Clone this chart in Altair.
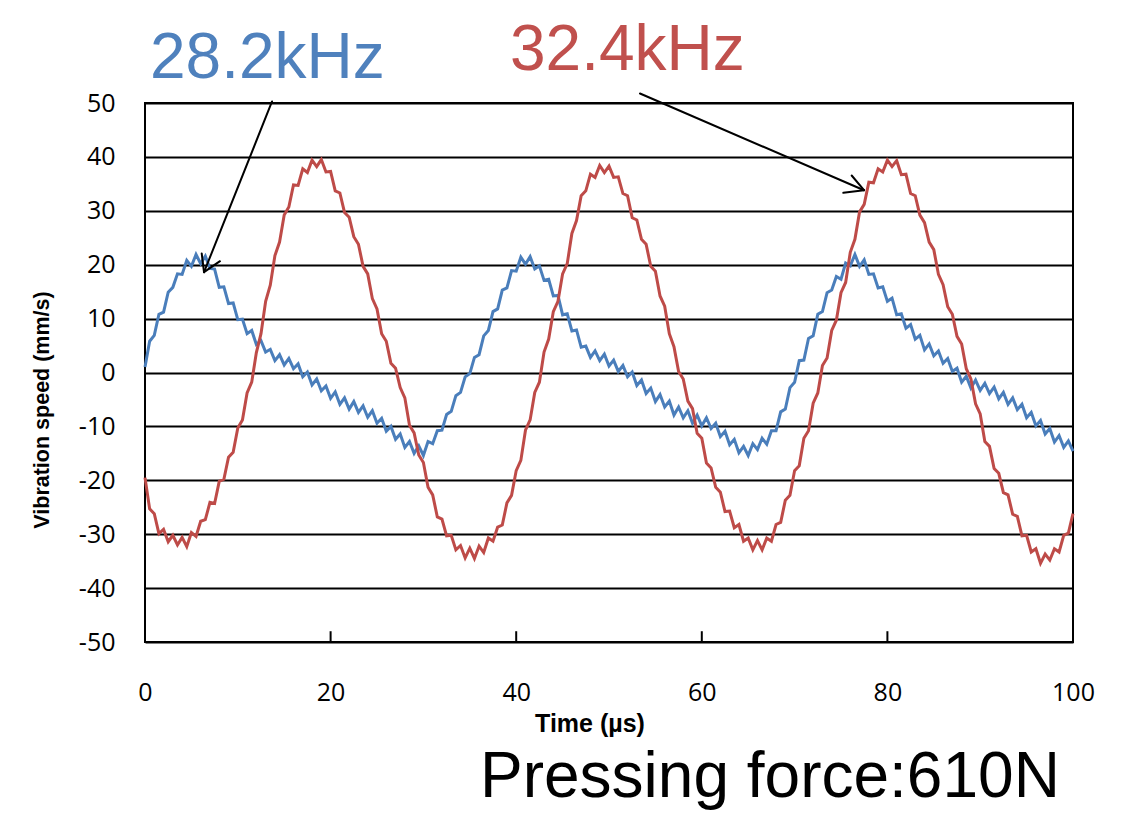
import altair as alt
import pandas as pd

# ---------------- data ----------------
time_us = [i * 0.5 for i in range(201)]  # sampling grid 0..100 µs, step 0.5

speed_28_2khz = [
    1.0, 5.8, 6.9, 10.8, 11.2, 14.9, 15.8, 18.3, 18.2, 20.8,
    19.7, 21.9, 20.2, 21.6, 19.3, 19.2, 15.8, 15.9, 12.8, 12.9,
    9.8, 9.9, 7.2, 7.8, 5.2, 5.9, 3.8, 4.3, 2.2, 3.3,
    1.4, 2.6, 0.7, 1.6, -0.8, 0.1, -2.3, -1.2, -3.4, -2.5,
    -4.8, -3.6, -5.9, -4.7, -6.8, -5.4, -7.4, -6.2, -8.3, -7.1,
    -9.4, -8.5, -10.9, -10.0, -12.4, -11.4, -13.9, -12.8, -15.0, -13.6,
    -15.4, -12.8, -13.2, -10.8, -10.7, -7.8, -7.2, -4.3, -3.7, -0.8,
    -0.2, 2.8, 3.3, 6.8, 7.8, 11.3, 11.8, 15.3, 15.7, 18.9,
    18.8, 21.4, 20.1, 21.5, 19.2, 19.8, 17.1, 17.3, 14.2, 14.3,
    10.7, 10.9, 7.7, 7.9, 4.7, 4.9, 2.8, 4.0, 2.2, 3.4,
    1.2, 2.3, 0.2, 1.3, -0.8, 0.1, -2.4, -1.4, -3.9, -2.9,
    -5.4, -4.1, -6.4, -5.3, -7.9, -6.4, -8.4, -7.1, -9.4, -7.9,
    -9.9, -8.4, -10.4, -9.4, -11.9, -10.9, -13.4, -12.4, -14.9, -13.7,
    -15.4, -13.2, -14.3, -12.2, -13.3, -10.8, -10.8, -7.3, -6.8, -2.8,
    -1.8, 2.2, 2.3, 6.3, 6.8, 10.8, 11.3, 14.8, 15.3, 17.8,
    17.3, 20.3, 19.8, 21.9, 19.7, 20.9, 18.2, 18.3, 15.7, 15.9,
    13.2, 13.8, 10.7, 10.9, 8.2, 8.9, 6.2, 6.9, 4.2, 5.3,
    3.1, 4.0, 1.7, 2.6, 0.2, 0.8, -1.8, -0.7, -2.9, -1.4,
    -3.3, -2.0, -3.9, -2.7, -4.9, -3.7, -5.9, -4.7, -6.9, -5.9,
    -8.4, -7.4, -9.9, -8.9, -11.4, -10.4, -12.9, -11.7, -13.9, -12.7,
    -14.6,
]

speed_32_4khz = [
    -19.5, -25.3, -26.2, -29.9, -29.1, -31.4, -30.2, -32.0, -30.6, -32.3,
    -29.7, -30.4, -27.6, -27.3, -24.1, -24.3, -20.2, -19.8, -15.7, -14.8,
    -10.3, -8.8, -3.8, -1.8, 3.7, 7.2, 13.2, 16.2, 21.7, 24.2,
    29.2, 30.7, 34.8, 34.7, 37.8, 37.1, 39.4, 38.2, 39.5, 37.2,
    37.3, 33.7, 33.3, 29.7, 28.8, 25.2, 23.8, 19.7, 18.3, 13.7,
    11.8, 7.2, 5.8, 1.7, 0.8, -2.8, -4.7, -9.8, -11.2, -15.3,
    -16.7, -21.3, -22.7, -26.8, -27.2, -30.3, -30.2, -32.9, -32.1, -34.4,
    -32.6, -34.5, -32.2, -33.4, -30.7, -31.3, -28.7, -28.3, -24.2, -22.8,
    -18.2, -16.3, -10.7, -8.8, -3.7, -1.8, 3.8, 6.2, 11.3, 13.2,
    18.3, 20.2, 25.8, 28.2, 32.8, 33.7, 36.8, 36.2, 38.4, 37.1,
    38.3, 36.2, 36.3, 33.2, 32.8, 28.7, 28.3, 24.7, 23.8, 19.7,
    18.8, 14.2, 12.3, 7.2, 4.8, 0.2, -1.2, -5.3, -6.7, -11.3,
    -12.2, -16.8, -17.7, -21.3, -22.2, -25.8, -25.7, -28.8, -28.2, -31.3,
    -30.7, -32.9, -31.2, -32.9, -30.7, -31.3, -28.2, -27.8, -23.7, -22.8,
    -18.2, -17.3, -12.2, -10.8, -5.7, -3.8, 1.3, 2.7, 7.8, 9.7,
    14.8, 16.7, 22.3, 24.7, 29.8, 31.2, 35.3, 35.2, 37.8, 37.2,
    39.4, 38.2, 39.3, 36.7, 36.8, 33.2, 32.8, 29.2, 27.8, 24.2,
    22.8, 18.2, 16.3, 12.2, 10.8, 6.7, 5.3, 0.7, -1.2, -5.8,
    -7.7, -12.8, -13.7, -17.8, -18.7, -22.3, -22.7, -26.3, -26.7, -30.3,
    -30.2, -33.3, -32.7, -35.4, -33.7, -34.8, -32.7, -33.3, -30.2, -29.8,
    -26.2,
]

x_tick_values = [0, 20, 40, 60, 80, 100]
y_tick_values = [-50, -40, -30, -20, -10, 0, 10, 20, 30, 40, 50]
inner_ticks = [20, 40, 60, 80]

# annotation arrows (data coordinates): shaft + two head strokes
arrow_x = [13.69, 6.36, 6.36, 53.34, 77.48, 77.48]
arrow_y = [50.28, 18.61, 18.61, 51.76, 33.82, 33.82]
arrow_x2 = [6.36, 6.11, 8.08, 77.48, 76.15, 75.25]
arrow_y2 = [18.61, 22.08, 20.65, 33.82, 36.55, 33.34]

label_blue = "28.2kHz"
label_red = "32.4kHz"
note = "Pressing force:610N"
x_title = "Time (µs)"
y_title = "Vibration speed (mm/s)"

BLUE = "#4A7EBB"
RED = "#BE4B48"

# ---------------- chart ----------------
df = pd.DataFrame({"t": time_us, "blue": speed_28_2khz, "red": speed_32_4khz})

xs = alt.Scale(domain=[0, 100], nice=False, zero=False)
ys = alt.Scale(domain=[-50, 50], nice=False, zero=False)

x_axis = alt.Axis(values=x_tick_values, title=None, grid=False, ticks=False, domain=False,
                  labelFont="Open Sans", labelFontSize=25, labelColor="black",
                  labelPadding=38, labelFlush=False, labelExpr="toString(datum.value)")
y_axis = alt.Axis(values=y_tick_values, title=None, grid=True, gridColor="black",
                  gridWidth=2, gridOpacity=1, ticks=False, domain=False,
                  labelFont="Open Sans", labelFontSize=25, labelColor="black",
                  labelPadding=30, labelFlush=False, labelExpr="toString(datum.value)")

blue_line = alt.Chart(df).mark_line(color=BLUE, strokeWidth=3).encode(
    x=alt.X("t:Q", scale=xs, axis=x_axis, title=None),
    y=alt.Y("blue:Q", scale=ys, axis=y_axis, title=None),
)
red_line = alt.Chart(df).mark_line(color=RED, strokeWidth=3).encode(
    x=alt.X("t:Q", scale=xs, title=None),
    y=alt.Y("red:Q", scale=ys, title=None),
)

ticks_df = pd.DataFrame({"t": inner_ticks, "lo": [-50] * 4, "hi": [-48] * 4})
tick_marks = alt.Chart(ticks_df).mark_rule(color="black", strokeWidth=2).encode(
    x=alt.X("t:Q", scale=xs, title=None),
    y=alt.Y("lo:Q", scale=ys, title=None),
    y2="hi:Q",
)

arrows_df = pd.DataFrame({"x": arrow_x, "y": arrow_y, "x2": arrow_x2, "y2": arrow_y2})
arrows = alt.Chart(arrows_df).mark_rule(color="black", strokeWidth=2, strokeCap="round").encode(
    x=alt.X("x:Q", scale=xs, title=None),
    y=alt.Y("y:Q", scale=ys, title=None),
    x2="x2:Q",
    y2="y2:Q",
)


def text_layer(s, px, py, **kw):
    return alt.Chart(pd.DataFrame({"s": [s]})).mark_text(**kw).encode(
        text="s:N", x=alt.value(px), y=alt.value(py)
    )


t_blue = text_layer(label_blue, 5, -25, font="Liberation Sans", fontSize=64,
                    color="#4F81BD", align="left", baseline="alphabetic")
t_red = text_layer(label_red, 365, -33, font="Liberation Sans", fontSize=64,
                   color="#C0504D", align="left", baseline="alphabetic")
t_note = text_layer(note, 335, 694, font="Liberation Sans", fontSize=64,
                    color="black", align="left", baseline="alphabetic")
t_xtitle = text_layer(x_title, 445, 629, font="Liberation Sans", fontSize=25,
                      fontWeight="bold", color="black", align="center", baseline="alphabetic")
t_ytitle = text_layer(y_title, -102, 307, font="Liberation Sans", fontSize=21.5,
                      fontWeight="bold", color="black", align="center", baseline="middle",
                      angle=270)

chart = alt.layer(
    blue_line, red_line, tick_marks, arrows, t_blue, t_red, t_note, t_xtitle, t_ytitle
).properties(
    width=928,
    height=539,
    padding={"left": 137, "top": 95, "right": 40, "bottom": 168},
    autosize=alt.AutoSizeParams(type="none"),
    background="white",
).configure_view(stroke="black", strokeWidth=2)

chart.save("out.html", embed_options={"renderer": "svg", "actions": False})
